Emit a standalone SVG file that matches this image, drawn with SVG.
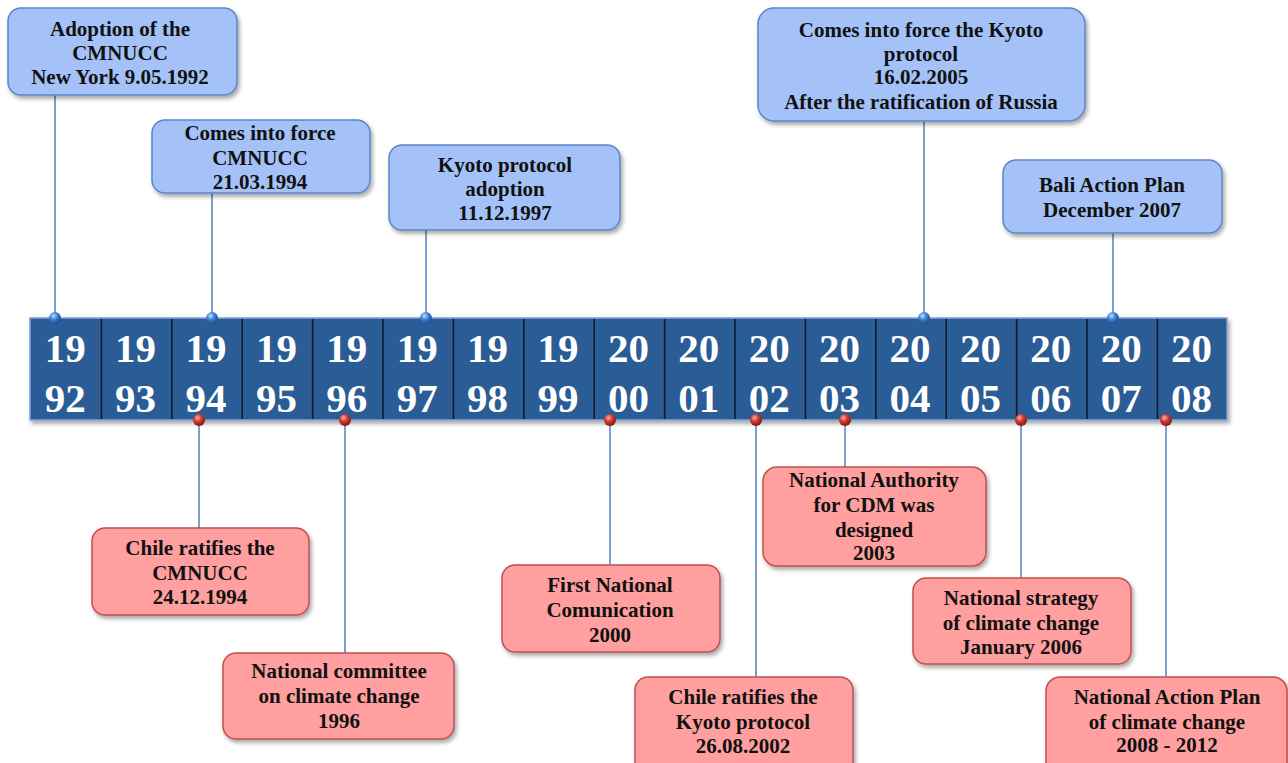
<svg xmlns="http://www.w3.org/2000/svg" width="1288" height="763" viewBox="0 0 1288 763">
  <defs>
    <filter id="shadow" x="-10%" y="-10%" width="125%" height="135%">
      <feDropShadow dx="2" dy="3" stdDeviation="2" flood-color="#000" flood-opacity="0.35"/>
    </filter>
    <radialGradient id="pinBlue" cx="0.38" cy="0.32" r="0.7">
      <stop offset="0" stop-color="#bfe0ff"/>
      <stop offset="0.45" stop-color="#3f82d8"/>
      <stop offset="1" stop-color="#1b4c8c"/>
    </radialGradient>
    <radialGradient id="pinRed" cx="0.38" cy="0.32" r="0.7">
      <stop offset="0" stop-color="#ffb3a8"/>
      <stop offset="0.45" stop-color="#d03a2e"/>
      <stop offset="1" stop-color="#7c1712"/>
    </radialGradient>
    <style>
      .blue { fill: #a4c2f7; stroke: #5a86c8; stroke-width: 1.5; }
      .red { fill: #ff9f9f; stroke: #c0504d; stroke-width: 1.5; }
      .label { font-family: "Liberation Serif", "Times New Roman", serif; font-weight: bold; font-size: 21px; fill: #111; text-anchor: middle; }
      .year { font-family: "Liberation Serif", "Times New Roman", serif; font-weight: bold; font-size: 41px; fill: #ffffff; text-anchor: middle; }
      .conn { stroke: #5b87c6; stroke-width: 1.6; fill: none; }
      .cell { stroke: #111a2a; stroke-width: 1.6; }
    </style>
  </defs>

  <rect width="1288" height="763" fill="#ffffff"/>

  <!-- connectors -->
  <g id="connectors" class="conn">
    <line x1="55" y1="95" x2="55" y2="318"/>
    <line x1="212" y1="193" x2="212" y2="318"/>
    <line x1="426" y1="230" x2="426" y2="318"/>
    <line x1="924" y1="121" x2="924" y2="318"/>
    <line x1="1113" y1="233" x2="1113" y2="318"/>
    <line x1="199" y1="420" x2="199" y2="528"/>
    <line x1="345" y1="420" x2="345" y2="653"/>
    <line x1="610" y1="420" x2="610" y2="565"/>
    <line x1="756" y1="420" x2="756" y2="677"/>
    <line x1="845" y1="420" x2="845" y2="467"/>
    <line x1="1021" y1="420" x2="1021" y2="578"/>
    <line x1="1166" y1="420" x2="1166" y2="677"/>
  </g>

  <!-- timeline bar -->
  <g id="timeline">
    <rect x="30" y="318" width="1197" height="102" fill="#2c5b96" stroke="#7ea3d9" stroke-width="1.5" filter="url(#shadow)"/>
    <g class="cell">
      <line x1="101.4" y1="319" x2="101.4" y2="419"/>
      <line x1="171.8" y1="319" x2="171.8" y2="419"/>
      <line x1="242.2" y1="319" x2="242.2" y2="419"/>
      <line x1="312.6" y1="319" x2="312.6" y2="419"/>
      <line x1="383.0" y1="319" x2="383.0" y2="419"/>
      <line x1="453.4" y1="319" x2="453.4" y2="419"/>
      <line x1="523.8" y1="319" x2="523.8" y2="419"/>
      <line x1="594.2" y1="319" x2="594.2" y2="419"/>
      <line x1="664.6" y1="319" x2="664.6" y2="419"/>
      <line x1="735.0" y1="319" x2="735.0" y2="419"/>
      <line x1="805.4" y1="319" x2="805.4" y2="419"/>
      <line x1="875.8" y1="319" x2="875.8" y2="419"/>
      <line x1="946.2" y1="319" x2="946.2" y2="419"/>
      <line x1="1016.6" y1="319" x2="1016.6" y2="419"/>
      <line x1="1087.0" y1="319" x2="1087.0" y2="419"/>
      <line x1="1157.4" y1="319" x2="1157.4" y2="419"/>
    </g>
    <g class="year">
      <text x="65.2" y="362">19</text><text x="65.2" y="412">92</text>
      <text x="135.6" y="362">19</text><text x="135.6" y="412">93</text>
      <text x="206.0" y="362">19</text><text x="206.0" y="412">94</text>
      <text x="276.4" y="362">19</text><text x="276.4" y="412">95</text>
      <text x="346.8" y="362">19</text><text x="346.8" y="412">96</text>
      <text x="417.2" y="362">19</text><text x="417.2" y="412">97</text>
      <text x="487.6" y="362">19</text><text x="487.6" y="412">98</text>
      <text x="558.0" y="362">19</text><text x="558.0" y="412">99</text>
      <text x="628.4" y="362">20</text><text x="628.4" y="412">00</text>
      <text x="698.8" y="362">20</text><text x="698.8" y="412">01</text>
      <text x="769.2" y="362">20</text><text x="769.2" y="412">02</text>
      <text x="839.6" y="362">20</text><text x="839.6" y="412">03</text>
      <text x="910.0" y="362">20</text><text x="910.0" y="412">04</text>
      <text x="980.4" y="362">20</text><text x="980.4" y="412">05</text>
      <text x="1050.8" y="362">20</text><text x="1050.8" y="412">06</text>
      <text x="1121.2" y="362">20</text><text x="1121.2" y="412">07</text>
      <text x="1191.6" y="362">20</text><text x="1191.6" y="412">08</text>
    </g>
  </g>

  <!-- pins -->
  <g id="pins">
    <circle cx="55" cy="318" r="6" fill="url(#pinBlue)"/>
    <circle cx="212" cy="318" r="6" fill="url(#pinBlue)"/>
    <circle cx="426" cy="318" r="6" fill="url(#pinBlue)"/>
    <circle cx="924" cy="318" r="6" fill="url(#pinBlue)"/>
    <circle cx="1113" cy="318" r="6" fill="url(#pinBlue)"/>
    <circle cx="199" cy="420" r="6" fill="url(#pinRed)"/>
    <circle cx="345" cy="420" r="6" fill="url(#pinRed)"/>
    <circle cx="610" cy="420" r="6" fill="url(#pinRed)"/>
    <circle cx="756" cy="420" r="6" fill="url(#pinRed)"/>
    <circle cx="845" cy="420" r="6" fill="url(#pinRed)"/>
    <circle cx="1021" cy="420" r="6" fill="url(#pinRed)"/>
    <circle cx="1166" cy="420" r="6" fill="url(#pinRed)"/>
  </g>

  <!-- upper events -->
  <g id="adoption-cmnucc">
    <rect class="blue" x="8" y="8" width="229" height="87" rx="13" filter="url(#shadow)"/>
    <text class="label" x="120" y="36">Adoption of the</text>
    <text class="label" x="120" y="60">CMNUCC</text>
    <text class="label" x="120" y="84">New York 9.05.1992</text>
  </g>
  <g id="force-cmnucc">
    <rect class="blue" x="152" y="120" width="218" height="73" rx="13" filter="url(#shadow)"/>
    <text class="label" x="260" y="140">Comes into force</text>
    <text class="label" x="260" y="165">CMNUCC</text>
    <text class="label" x="260" y="189">21.03.1994</text>
  </g>
  <g id="kyoto-adoption">
    <rect class="blue" x="389" y="145" width="231" height="85" rx="13" filter="url(#shadow)"/>
    <text class="label" x="505" y="172">Kyoto protocol</text>
    <text class="label" x="505" y="196">adoption</text>
    <text class="label" x="505" y="220">11.12.1997</text>
  </g>
  <g id="kyoto-force">
    <rect class="blue" x="758" y="8" width="327" height="113" rx="16" filter="url(#shadow)"/>
    <text class="label" x="921" y="37">Comes into force the Kyoto</text>
    <text class="label" x="921" y="61">protocol</text>
    <text class="label" x="921" y="84">16.02.2005</text>
    <text class="label" x="921" y="109">After the ratification  of Russia</text>
  </g>
  <g id="bali">
    <rect class="blue" x="1003" y="160" width="219" height="73" rx="13" filter="url(#shadow)"/>
    <text class="label" x="1112" y="192">Bali Action Plan</text>
    <text class="label" x="1112" y="217">December 2007</text>
  </g>

  <!-- lower events -->
  <g id="chile-cmnucc">
    <rect class="red" x="92" y="528" width="217" height="87" rx="13" filter="url(#shadow)"/>
    <text class="label" x="200" y="555">Chile ratifies the</text>
    <text class="label" x="200" y="580">CMNUCC</text>
    <text class="label" x="200" y="604">24.12.1994</text>
  </g>
  <g id="committee">
    <rect class="red" x="223" y="653" width="231" height="86" rx="13" filter="url(#shadow)"/>
    <text class="label" x="339" y="678">National committee</text>
    <text class="label" x="339" y="703">on climate change</text>
    <text class="label" x="339" y="728">1996</text>
  </g>
  <g id="first-communication">
    <rect class="red" x="502" y="565" width="218" height="87" rx="13" filter="url(#shadow)"/>
    <text class="label" x="610" y="592">First National</text>
    <text class="label" x="610" y="617">Comunication</text>
    <text class="label" x="610" y="642">2000</text>
  </g>
  <g id="chile-kyoto">
    <rect class="red" x="635" y="677" width="218" height="100" rx="13" filter="url(#shadow)"/>
    <text class="label" x="743" y="704">Chile ratifies the</text>
    <text class="label" x="743" y="729">Kyoto protocol</text>
    <text class="label" x="743" y="753">26.08.2002</text>
  </g>
  <g id="cdm-authority">
    <rect class="red" x="763" y="467" width="223" height="99" rx="14" filter="url(#shadow)"/>
    <text class="label" x="874" y="487">National Authority</text>
    <text class="label" x="874" y="512">for CDM  was</text>
    <text class="label" x="874" y="537">designed</text>
    <text class="label" x="874" y="560">2003</text>
  </g>
  <g id="national-strategy">
    <rect class="red" x="913" y="578" width="218" height="86" rx="13" filter="url(#shadow)"/>
    <text class="label" x="1021" y="605">National strategy</text>
    <text class="label" x="1021" y="630">of climate change</text>
    <text class="label" x="1021" y="654">January 2006</text>
  </g>
  <g id="action-plan">
    <rect class="red" x="1046" y="677" width="241" height="100" rx="14" filter="url(#shadow)"/>
    <text class="label" x="1167" y="704">National Action  Plan</text>
    <text class="label" x="1167" y="729">of climate change</text>
    <text class="label" x="1167" y="752">2008 - 2012</text>
  </g>
</svg>
